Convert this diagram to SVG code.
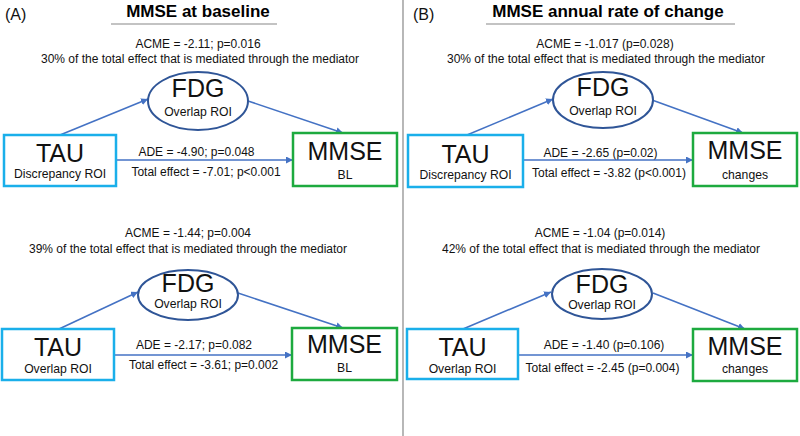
<svg xmlns="http://www.w3.org/2000/svg" width="800" height="436" viewBox="0 0 800 436">
<defs>
<marker id="ah" viewBox="0 0 10 10" refX="10" refY="5" markerWidth="7" markerHeight="7" markerUnits="userSpaceOnUse" orient="auto">
<path d="M0,0 L10,5 L0,10 z" fill="#4472C4"/>
</marker>
<style>
text{font-family:"Liberation Sans",Arial,sans-serif;fill:#111;}
.t{font-size:17px;font-weight:bold;text-anchor:middle;fill:#000;}
.p{font-size:16px;}
.s{font-size:12px;text-anchor:middle;}
.big{font-size:25px;text-anchor:middle;}
.sub{font-size:12.2px;text-anchor:middle;}
.tau{fill:#fff;stroke:#1AAFEA;stroke-width:2.5;}
.mm{fill:#fff;stroke:#1DAA3F;stroke-width:2.5;}
.fdg{fill:#fff;stroke:#2F5597;stroke-width:2;}
.c line{stroke:#4472C4;stroke-width:1.6;marker-end:url(#ah);}
.rule{stroke:#888;stroke-width:1.2;}
</style>
</defs>
<rect width="800" height="436" fill="#fff"/>
<line class="rule" x1="403" y1="0" x2="403" y2="436" stroke-width="1.5"/>
<g id="panelA-head">
<text class="p" x="5" y="20">(A)</text>
<text class="t" x="198" y="17">MMSE at baseline</text>
<line class="rule" x1="111" y1="24" x2="277" y2="24"/>
</g>
<g id="panelB-head">
<text class="p" x="413" y="20">(B)</text>
<text class="t" x="608" y="17">MMSE annual rate of change</text>
<line class="rule" x1="486" y1="24" x2="735" y2="24"/>
</g>
<g id="labels">
<text class="s" x="198" y="48">ACME = -2.11; p=0.016</text>
<text class="s" x="200" y="63">30% of the total effect that is mediated through the mediator</text>
<text class="s" x="196.5" y="156">ADE = -4.90; p=0.048</text>
<text class="s" x="206" y="176">Total effect = -7.01; p&lt;0.001</text>
<text class="s" x="188" y="237">ACME = -1.44; p=0.004</text>
<text class="s" x="188" y="253">39% of the total effect that is mediated through the mediator</text>
<text class="s" x="194" y="349">ADE = -2.17; p=0.082</text>
<text class="s" x="203.5" y="369">Total effect = -3.61; p=0.002</text>
<text class="s" x="605" y="48">ACME = -1.017 (p=0.028)</text>
<text class="s" x="606" y="63">30% of the total effect that is mediated through the mediator</text>
<text class="s" x="600.5" y="157">ADE = -2.65 (p=0.02)</text>
<text class="s" x="609" y="177">Total effect = -3.82 (p&lt;0.001)</text>
<text class="s" x="600" y="237">ACME = -1.04 (p=0.014)</text>
<text class="s" x="601" y="253">42% of the total effect that is mediated through the mediator</text>
<text class="s" x="604" y="349">ADE = -1.40 (p=0.106)</text>
<text class="s" x="602.5" y="372">Total effect = -2.45 (p=0.004)</text>
</g>
<g class="c" id="connectors">
<line x1="60" y1="135" x2="148" y2="99"/>
<line x1="248" y1="101" x2="343" y2="133"/>
<line x1="116" y1="160" x2="293" y2="160"/>
<line x1="59" y1="329" x2="138" y2="292"/>
<line x1="238" y1="293" x2="343" y2="328"/>
<line x1="114" y1="355" x2="292" y2="355"/>
<line x1="467" y1="135" x2="553" y2="99"/>
<line x1="652" y1="100" x2="743" y2="133"/>
<line x1="523" y1="160" x2="693" y2="160"/>
<line x1="463" y1="329" x2="551" y2="292"/>
<line x1="653" y1="293" x2="745" y2="329"/>
<line x1="518" y1="355" x2="693" y2="355"/>
</g>
<g id="A1-fdg">
<ellipse class="fdg" cx="198" cy="101" rx="50" ry="29"/>
<text class="big" x="198" y="97" font-size="24">FDG</text>
<text class="sub" x="198" y="116">Overlap ROI</text>
</g>
<g id="A1-tau">
<rect class="tau" x="4" y="135" width="112" height="51"/>
<text class="big" x="60" y="162">TAU</text>
<text class="sub" x="60" y="178">Discrepancy ROI</text>
</g>
<g id="A1-mmse">
<rect class="mm" x="293" y="133" width="104" height="53"/>
<text class="big" x="345" y="160">MMSE</text>
<text class="sub" x="345" y="179">BL</text>
</g>
<g id="A2-fdg">
<ellipse class="fdg" cx="188" cy="295" rx="50" ry="25"/>
<text class="big" x="188" y="292">FDG</text>
<text class="sub" x="188" y="308">Overlap ROI</text>
</g>
<g id="A2-tau">
<rect class="tau" x="2" y="329" width="112" height="51"/>
<text class="big" x="58" y="356">TAU</text>
<text class="sub" x="58" y="373">Overlap ROI</text>
</g>
<g id="A2-mmse">
<rect class="mm" x="292" y="328" width="105" height="52"/>
<text class="big" x="344.5" y="353">MMSE</text>
<text class="sub" x="344.5" y="372">BL</text>
</g>
<g id="B1-fdg">
<ellipse class="fdg" cx="603" cy="100" rx="50" ry="28"/>
<text class="big" x="603" y="96">FDG</text>
<text class="sub" x="603" y="115">Overlap ROI</text>
</g>
<g id="B1-tau">
<rect class="tau" x="408" y="135" width="115" height="52"/>
<text class="big" x="465.5" y="163">TAU</text>
<text class="sub" x="465.5" y="179">Discrepancy ROI</text>
</g>
<g id="B1-mmse">
<rect class="mm" x="693" y="133" width="104" height="53"/>
<text class="big" x="745" y="159">MMSE</text>
<text class="sub" x="745" y="179">changes</text>
</g>
<g id="B2-fdg">
<ellipse class="fdg" cx="602" cy="294" rx="50" ry="25"/>
<text class="big" x="602" y="293">FDG</text>
<text class="sub" x="602" y="309">Overlap ROI</text>
</g>
<g id="B2-tau">
<rect class="tau" x="407" y="329" width="111" height="50"/>
<text class="big" x="462.5" y="356">TAU</text>
<text class="sub" x="462.5" y="373">Overlap ROI</text>
</g>
<g id="B2-mmse">
<rect class="mm" x="693" y="329" width="104" height="52"/>
<text class="big" x="745" y="355">MMSE</text>
<text class="sub" x="745" y="373">changes</text>
</g>
</svg>
